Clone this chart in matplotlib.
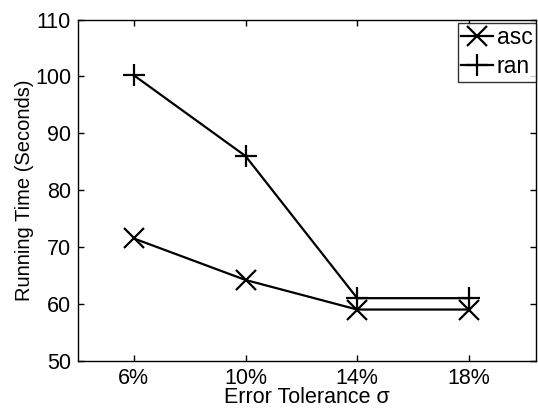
import matplotlib
matplotlib.use("Agg")
import matplotlib.pyplot as plt

plt.rcParams['font.family'] = ['Liberation Sans', 'DejaVu Sans']

categories = ["6%", "10%", "14%", "18%"]
x_vals = [6, 10, 14, 18]
asc = [71.5, 64.2, 59.0, 59.0]
ran = [100.2, 86.0, 61.0, 61.0]
yticks = [50, 60, 70, 80, 90, 100, 110]

fig = plt.figure(figsize=(5.38, 4.12), dpi=100)
ax = fig.add_axes([0.145, 0.1245, 0.851, 0.828])

ax.plot(x_vals, asc, color='black', lw=1.6, marker='x', markersize=14,
        markeredgewidth=1.6, label='asc')
ax.plot(x_vals, ran, color='black', lw=1.6, marker='+', markersize=16,
        markeredgewidth=1.6, label='ran')

ax.set_xlim(4.0, 20.4)
ax.set_ylim(50, 110)
ax.set_xticks(x_vals)
ax.set_xticklabels(categories)
ax.set_yticks(yticks)
ax.tick_params(direction='in', length=4, width=1, top=True, right=True,
               labelsize=15.5, pad=5)
for s in ax.spines.values():
    s.set_linewidth(1.0)

ax.set_xlabel("Error Tolerance σ", fontsize=15.5, labelpad=-1)
ax.set_ylabel("Running Time (Seconds)", fontsize=14.5, labelpad=1)

leg = ax.legend(loc='upper right', bbox_to_anchor=(1.0, 0.99), fontsize=16.5,
                frameon=True, fancybox=False, edgecolor='black',
                borderaxespad=0.0, handlelength=1.4, handletextpad=0.15,
                borderpad=0.15, labelspacing=0.25)
leg.get_frame().set_linewidth(1.0)

fig.savefig("out.png", dpi=100)
